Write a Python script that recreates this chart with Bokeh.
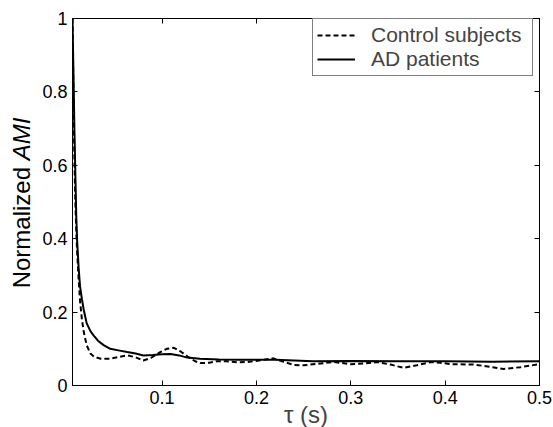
import numpy as np
from bokeh.plotting import figure
from bokeh.layouts import row
from bokeh.models import (Range1d, FixedTicker, LinearAxis, Legend, LegendItem,
                          CustomJSTickFormatter, Div)
from bokeh.embed import file_html
from bokeh.resources import INLINE

# Data
tau_control = [0.005, 0.006, 0.007, 0.008, 0.009, 0.010, 0.0115, 0.013, 0.015, 0.017, 0.020,
               0.024, 0.028, 0.035, 0.045, 0.055, 0.063, 0.072, 0.080, 0.088, 0.098, 0.105,
               0.112, 0.120, 0.127, 0.135, 0.141, 0.150, 0.158, 0.168, 0.180, 0.190, 0.197,
               0.208, 0.218, 0.228, 0.240, 0.250, 0.265, 0.282, 0.300, 0.315, 0.328, 0.342,
               0.356, 0.370, 0.385, 0.395, 0.406, 0.430, 0.445, 0.462, 0.480, 0.500]
ami_control = [1.0, 0.80, 0.62, 0.50, 0.42, 0.36, 0.29, 0.23, 0.18, 0.145, 0.11,
               0.087, 0.078, 0.073, 0.073, 0.078, 0.082, 0.077, 0.068, 0.075, 0.091, 0.100,
               0.103, 0.092, 0.079, 0.066, 0.061, 0.062, 0.066, 0.066, 0.063, 0.064, 0.066,
               0.070, 0.074, 0.065, 0.056, 0.055, 0.059, 0.064, 0.058, 0.060, 0.064, 0.057,
               0.048, 0.055, 0.064, 0.062, 0.058, 0.057, 0.052, 0.045, 0.050, 0.058]

tau_ad = [0.005, 0.006, 0.007, 0.008, 0.009, 0.010, 0.0115, 0.013, 0.015, 0.017, 0.020,
          0.024, 0.0275, 0.032, 0.038, 0.045, 0.055, 0.063, 0.072, 0.080, 0.090, 0.100,
          0.109, 0.118, 0.1265, 0.140, 0.160, 0.180, 0.200, 0.220, 0.240, 0.260, 0.300,
          0.350, 0.400, 0.450, 0.500]
ami_ad = [1.0, 0.85, 0.70, 0.58, 0.46, 0.39, 0.32, 0.27, 0.235, 0.205, 0.17,
          0.148, 0.136, 0.122, 0.110, 0.100, 0.095, 0.091, 0.087, 0.082, 0.083, 0.085,
          0.086, 0.082, 0.076, 0.073, 0.071, 0.070, 0.070, 0.070, 0.068, 0.066, 0.067,
          0.066, 0.066, 0.065, 0.066]

x_ticks = [0.1, 0.2, 0.3, 0.4, 0.5]
y_ticks = [0, 0.2, 0.4, 0.6, 0.8, 1]
legend_labels = ["Control subjects", "AD patients"]
y_label_plain = "Normalized"
y_label_italic = "AMI"

FONT = "Liberation Sans"
DIV_W = 36

p = figure(width=553 - DIV_W, height=427, frame_width=467, frame_height=367,
           output_backend="svg", toolbar_location=None,
           x_range=Range1d(0.005, 0.5), y_range=Range1d(0, 1),
           min_border_left=72 - DIV_W, min_border_top=18, min_border_right=14,
           min_border_bottom=42, margin=0)
p.background_fill_color = "white"
p.border_fill_color = "white"
p.outline_line_color = "black"
p.outline_line_width = 1
p.grid.visible = False

r1 = p.line(tau_control, ami_control, line_color="black", line_width=2, line_dash="5 3")
r2 = p.line(tau_ad, ami_ad, line_color="black", line_width=2)

for ax in (p.xaxis[0], p.yaxis[0]):
    ax.major_tick_in = 5
    ax.major_tick_out = 0
    ax.minor_tick_in = 0
    ax.minor_tick_out = 0
    ax.axis_line_color = "black"
    ax.major_tick_line_color = "black"
    ax.major_label_text_font = FONT
    ax.major_label_text_font_size = "18px"
    ax.major_label_text_color = "black"

p.xaxis[0].ticker = FixedTicker(ticks=x_ticks)
p.yaxis[0].ticker = FixedTicker(ticks=y_ticks)
p.yaxis[0].major_label_overrides = {0: "0", 1: "1"}

p.xaxis[0].axis_label = "τ (s)"
p.xaxis[0].axis_label_text_font = FONT
p.xaxis[0].axis_label_text_font_size = "24px"
p.xaxis[0].axis_label_text_font_style = "normal"
p.xaxis[0].axis_label_standoff = -6

# top & right axes for box ticks (no labels)
blank = CustomJSTickFormatter(code="return ''")
top = LinearAxis(ticker=FixedTicker(ticks=x_ticks), formatter=blank,
                 major_tick_in=5, major_tick_out=0, minor_tick_in=0, minor_tick_out=0,
                 axis_line_color="black", major_label_standoff=0)
right = LinearAxis(ticker=FixedTicker(ticks=y_ticks), formatter=blank,
                   major_tick_in=5, major_tick_out=0, minor_tick_in=0, minor_tick_out=0,
                   axis_line_color="black", major_label_standoff=0)
p.add_layout(top, "above")
p.add_layout(right, "right")

legend = Legend(items=[LegendItem(label=legend_labels[0], renderers=[r1]),
                       LegendItem(label=legend_labels[1], renderers=[r2])],
                location=(240, 309), orientation="vertical",
                label_text_font=FONT, label_text_font_size="21px",
                label_height=22, glyph_height=22, glyph_width=38, label_standoff=16,
                label_width=157, spacing=0, padding=4, margin=0,
                border_line_color="black", border_line_width=1,
                background_fill_color="white", background_fill_alpha=1)
p.add_layout(legend)

# y-axis label with italic part, as a rotated HTML text block
ylabel_html = (
    '<div style="position:relative;width:%dpx;height:427px;overflow:visible;">'
    '<span style="position:absolute;left:22px;top:203px;'
    'transform:translate(-50%%,-50%%) rotate(-90deg);white-space:nowrap;'
    'font-family:\'Liberation Sans\';font-size:24px;color:black;line-height:1;">'
    '%s <i>%s</i></span></div>' % (DIV_W, y_label_plain, y_label_italic)
)
ylabel = Div(text=ylabel_html, width=DIV_W, height=427, margin=0,
             styles={"overflow": "visible"})

layout = row(ylabel, p, spacing=0, margin=0)
open("out.html", "w").write(file_html(layout, INLINE))
